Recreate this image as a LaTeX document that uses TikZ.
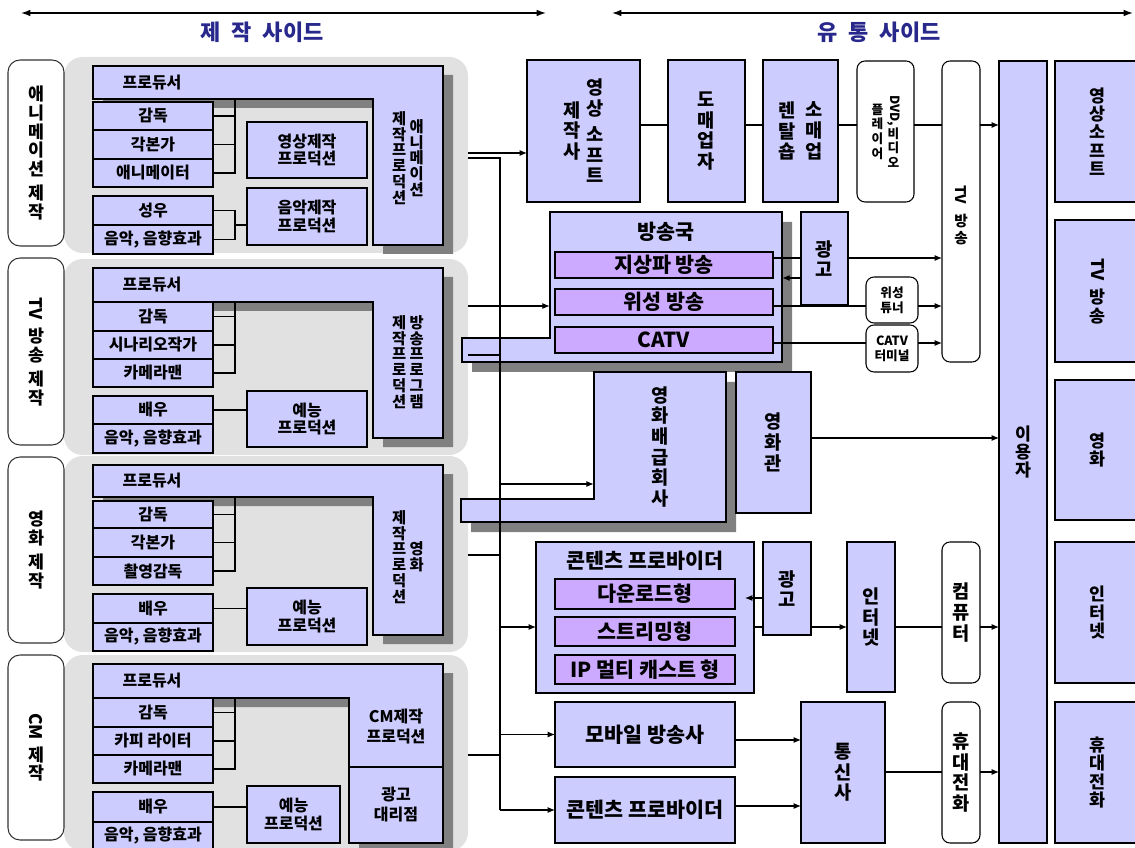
\documentclass[tikz,border=0pt]{standalone}
\usepackage{fontspec}
\setmainfont{Noto Sans CJK KR}
\usepackage{graphicx}
\usetikzlibrary{arrows.meta,fit}
\definecolor{lav}{RGB}{204,204,255}
\definecolor{purp}{RGB}{204,170,255}
\definecolor{bgg}{RGB}{225,225,225}
\definecolor{shd}{RGB}{128,128,128}
\definecolor{ttl}{RGB}{40,40,140}
\newcommand\fT{\fontsize{16.5}{18}\selectfont\bfseries}
\newcommand\fL{\fontsize{13}{14}\selectfont\bfseries}
\newcommand\fS{\fontsize{12}{13}\selectfont\bfseries}
\newcommand\fV{\fontsize{11.5}{11.8}\selectfont\bfseries}
\newcommand\fM{\fontsize{14}{15.5}\selectfont\bfseries}
\newcommand\fH{\fontsize{15.5}{16}\selectfont\bfseries}
\newcommand\fR{\fontsize{13}{13.8}\selectfont\bfseries}
\newcommand\fX{\fontsize{9.5}{11}\selectfont\bfseries}
\newcommand\rot[1]{\rotatebox[origin=c]{-90}{#1}}
\newcommand\stk[1]{$\vcenter{\lineskiplimit=-\maxdimen\lineskip=0pt\let\\\cr\halign{\hfil##\hfil\cr#1\crcr}}$}
\newcommand\twoc[3]{\stk{#2}\hspace{#1}\stk{#3}}
\newcommand\vgap{\noalign{\kern4pt}}
\newcommand\vgapb{\noalign{\kern7pt}}
\newcommand\mybox[7][]{\node[bx,#1,fit={(#3,#4)(#5,#6)}] (#2) {};
  \node[bx,#1,draw=none,fill=none] (#2t) at (#2.center) {#7};}
\begin{document}
\begin{tikzpicture}[x=0.75pt,y=-0.75pt,
  bx/.style={draw=black,line width=0.8pt,fill=lav,inner sep=0pt,outer sep=0pt,align=center,font=\fS},
  sub/.style={bx,fill=purp,font=\fH},
  rbx/.style={bx,fill=white,rounded corners=6pt},
  lbl/.style={bx,fill=white,draw=black!80,rounded corners=9pt,font=\fL},
  ln/.style={draw=black,line width=0.8pt},
  arr/.style={ln,-{Latex[length=5.5pt,width=4.5pt]}},
  dbl/.style={ln,line width=1pt,{Latex[length=7pt,width=5pt]}-{Latex[length=7pt,width=5pt]}},
  txt/.style={inner sep=0pt,align=center},
  ttlf/.style={txt,font=\fT,text=ttl},
  lsh/.style={ln,fill=lav},
  shdw/.style={fill=shd}]
\useasboundingbox (0,0) rectangle (1135,848);
% ---------- titles
\coordinate (lA) at (21,13); \coordinate (lB) at (546,13);
\coordinate (rA) at (612,13); \coordinate (rB) at (1133,13);
\draw[dbl] (lA) -- (lB);
\draw[dbl] (rA) -- (rB);
\node[ttlf] (tP) at (262,32) {제\hspace{0.5em}작\hspace{0.5em}사이드};
\node[ttlf] (tD) at (879,32) {유\hspace{0.5em}통\hspace{0.5em}사이드};
% ---------- group backgrounds
\foreach \b in {66,268,465,664} {\fill[bgg,rounded corners=14pt] (64,\b-9) rectangle (468,\b+187);}
% ---------- broadcaster and distributor shapes
\fill[shdw] (472,348) -- (560,348) -- (560,222) -- (792,222) -- (792,372) -- (472,372) -- cycle;
\draw[lsh] (462,338) -- (550,338) -- (550,212) -- (782,212) -- (782,362) -- (462,362) -- cycle;
\node[txt,fit={(550,212)(782,362)}] (bs) {};
\node[txt,font=\fH] (bsT) at (666,232) {방송국};
\mybox[sub]{jsp}{555}{252}{773}{278}{지상파 방송}
\mybox[sub]{ws}{555}{289}{773}{315}{위성 방송}
\mybox[sub]{catv}{555}{327}{773}{353}{CATV}
\fill[shdw] (471,509) -- (604,509) -- (604,382) -- (736,382) -- (736,532) -- (471,532) -- cycle;
\draw[lsh] (461,499) -- (594,499) -- (594,372) -- (726,372) -- (726,522) -- (461,522) -- cycle;
\node[txt,fit={(594,372)(726,522)}] (mv) {};
\node[txt,font=\fM] (mvT) at (mv.center) {\stk{영\\화\\배\\급\\회\\사}};
% ---------- labels
\mybox[lbl]{aL}{8}{60}{64}{246}{\stk{애\\니\\메\\이\\션\\\vgap 제\\작}}
\mybox[lbl]{bL}{8}{258}{64}{445}{\stk{\rot{TV}\\\vgapb 방\\송\\\vgap 제\\작}}
\mybox[lbl]{cL}{8}{457}{64}{643}{\stk{영\\화\\\vgap 제\\작}}
\mybox[lbl]{dL}{8}{655}{64}{840}{\stk{\rot{CM}\\\vgapb 제\\작}}
% ---------- group A
\fill[shdw] (103,75) -- (453,75) -- (453,254) -- (383,254) -- (383,108) -- (103,108) -- cycle;
\draw[lsh] (93,66) -- (443,66) -- (443,245) -- (373,245) -- (373,99) -- (93,99) -- cycle;
\node[txt,font=\fS] (aP) at (152,83) {프로듀서};
\node[txt,font=\fV] (aPT) at (408,158) {\twoc{2.5pt}{제\\작\\프\\로\\덕\\션}{애\\니\\메\\이\\션}};
\mybox{a1}{93}{102}{213}{130}{감독}
\mybox{a2}{93}{130}{213}{159}{각본가}
\mybox{a3}{93}{159}{213}{187}{애니메이터}
\mybox{a4}{93}{196}{213}{225}{성우}
\mybox{a5}{93}{225}{213}{254}{음악, 음향효과}
\mybox{aV}{247}{122}{367}{178}{영상제작\\프로덕션}
\mybox{aM}{247}{188}{367}{245}{음악제작\\프로덕션}
\coordinate (aJ) at (235,99);
\draw[ln] (a1.east) -- (a1.east -| aJ);
\draw[ln] (a2.east) -- (a2.east -| aJ);
\draw[ln] (a3.east) -- (a3.east -| aJ) -- (aJ);
\draw[ln] (a4.east) -- (a4.east -| aJ) -- (a5.east -| aJ) -- (a5.east);
\draw[ln] (a4.south -| aJ) -- (a4.south -| aM.west);
% ---------- group B
\fill[shdw] (103,277) -- (453,277) -- (453,447) -- (383,447) -- (383,311) -- (103,311) -- cycle;
\draw[lsh] (93,268) -- (443,268) -- (443,438) -- (373,438) -- (373,302) -- (93,302) -- cycle;
\node[txt,font=\fS] (bP) at (152,285) {프로듀서};
\node[txt,font=\fV] (bPT) at (408,362) {\twoc{2.5pt}{제\\작\\프\\로\\덕\\션}{방\\송\\프\\로\\그\\램}};
\mybox{b1}{93}{302}{213}{331}{감독}
\mybox{b2}{93}{331}{213}{359}{시나리오작가}
\mybox{b3}{93}{359}{213}{387}{카메라맨}
\mybox{b4}{93}{396}{213}{424}{배우}
\mybox{b5}{93}{424}{213}{453}{음악, 음향효과}
\mybox{bY}{247}{391}{367}{447}{예능\\프로덕션}
\coordinate (bJ) at (235,302);
\draw[ln] (b1.east) -- (b1.east -| bJ);
\draw[ln] (b2.east) -- (b2.east -| bJ);
\draw[ln] (b3.east) -- (b3.east -| bJ) -- (bJ);
\draw[ln] (b4.east) -- (b4.east -| bY.west);
% ---------- group C
\fill[shdw] (103,474) -- (453,474) -- (453,644) -- (383,644) -- (383,506) -- (103,506) -- cycle;
\draw[lsh] (93,465) -- (443,465) -- (443,635) -- (373,635) -- (373,497) -- (93,497) -- cycle;
\node[txt,font=\fS] (cP) at (152,481) {프로듀서};
\node[txt,font=\fV] (cPT) at (408,557) {\twoc{2.5pt}{제\\작\\프\\로\\덕\\션}{영\\화}};
\mybox{c1}{93}{501}{213}{528}{감독}
\mybox{c2}{93}{528}{213}{557}{각본가}
\mybox{c3}{93}{557}{213}{585}{촬영감독}
\mybox{c4}{93}{594}{213}{623}{배우}
\mybox{c5}{93}{623}{213}{651}{음악, 음향효과}
\mybox{cY}{247}{588}{367}{645}{예능\\프로덕션}
\coordinate (cJ) at (235,497);
\draw[ln] (c1.east) -- (c1.east -| cJ);
\draw[ln] (c2.east) -- (c2.east -| cJ);
\draw[ln] (c3.east) -- (c3.east -| cJ) -- (cJ);
\draw[ln] (c4.east) -- (c4.east -| cY.west);
% ---------- group D
\fill[shdw] (103,673) -- (453,673) -- (453,852) -- (359,852) -- (359,707) -- (103,707) -- cycle;
\draw[lsh] (93,664) -- (443,664) -- (443,767) -- (349,767) -- (349,698) -- (93,698) -- cycle;
\node[txt,font=\fS] (dP) at (152,681) {프로듀서};
\node[txt,font=\fS] (dPT) at (396,727) {CM제작\\[2pt]프로덕션};
\mybox{dAd}{349}{767}{443}{843}{광고\\[2pt]대리점}
\mybox{d1}{93}{698}{213}{727}{감독}
\mybox{d2}{93}{727}{213}{755}{카피 라이터}
\mybox{d3}{93}{755}{213}{783}{카메라맨}
\mybox{d4}{93}{792}{213}{822}{배우}
\mybox{d5}{93}{822}{213}{850}{음악, 음향효과}
\mybox{dY}{247}{786}{340}{843}{예능\\프로덕션}
\coordinate (dJ) at (235,698);
\draw[ln] (d1.east) -- (d1.east -| dJ);
\draw[ln] (d2.east) -- (d2.east -| dJ);
\draw[ln] (d3.east) -- (d3.east -| dJ) -- (dJ);
\draw[ln] (d4.east) -- (d4.east -| dY.west);
% ---------- distribution boxes
\mybox[font=\fM]{vs}{527}{60}{640}{202}{\twoc{4pt}{제\\작\\사}{영\\상\\\vgap 소\\프\\트}}
\mybox[font=\fM]{dm}{668}{60}{745}{202}{\stk{도\\매\\업\\자}}
\mybox[font=\fM]{sm}{763}{60}{838}{202}{\twoc{7pt}{렌\\탈\\숍}{소\\매\\업}}
\mybox[rbx,font=\fX]{dvd}{857}{61}{914}{202}{\twoc{3pt}{플\\레\\이\\어}{\rot{DVD,}\\\vgapb 비\\디\\오}}
\mybox[rbx]{tvb}{942}{61}{980}{362}{}
\node[txt,font=\fontsize{11}{12.5}\selectfont\bfseries] (tvbT) at (961,215) {\stk{\rot{TV}\\\vgapb 방\\송}};
\mybox[font=\fR]{usr}{999}{61}{1047}{843}{\stk{이\\용\\자}}
\mybox[font=\fR]{o1}{1055}{61}{1140}{202}{\stk{영\\상\\소\\프\\트}}
\mybox[font=\fR]{o2}{1055}{220}{1140}{362}{\stk{\rot{TV}\\\vgapb 방\\송}}
\mybox[font=\fR]{o3}{1055}{380}{1140}{520}{\stk{영\\화}}
\mybox[font=\fR]{o4}{1055}{542}{1140}{683}{\stk{인\\터\\넷}}
\mybox[font=\fR]{o5}{1055}{702}{1140}{843}{\stk{휴\\대\\전\\화}}
\mybox[font=\fM]{ad1}{801}{212}{848}{305}{\stk{광\\고}}
\mybox[rbx,font=\fX]{st}{866}{277}{918}{323}{위성\\튜너}
\mybox[rbx,font=\fX]{ct}{866}{325}{918}{372}{CATV\\터미널}
\mybox[font=\fM]{yg}{736}{372}{811}{513}{\stk{영\\화\\관}}
\mybox{cp}{536}{542}{754}{693}{}
\node[txt,font=\fH] (cpT) at (645,561) {콘텐츠 프로바이더};
\mybox[sub]{dl}{555}{579}{735}{609}{다운로드형}
\mybox[sub]{sr}{555}{617}{735}{646}{스트리밍형}
\mybox[sub]{ip}{555}{655}{735}{684}{IP 멀티 캐스트 형}
\mybox[font=\fM]{ad2}{763}{542}{811}{635}{\stk{광\\고}}
\mybox[font=\fM]{inet}{847}{542}{895}{692}{\stk{인\\터\\넷}}
\mybox[rbx,font=\fM]{pc}{942}{542}{980}{683}{\stk{컴\\퓨\\터}}
\mybox[font=\fH]{mb}{555}{702}{735}{767}{모바일 방송사}
\mybox[font=\fH]{cp2}{555}{777}{735}{843}{콘텐츠 프로바이더}
\mybox[font=\fM]{tel}{801}{702}{885}{843}{\stk{통\\신\\사}}
\mybox[rbx,font=\fM]{ph}{942}{702}{980}{843}{\stk{휴\\대\\전\\화}}
% ---------- helper rows
\coordinate (h125) at (0,125);
\coordinate (h258) at (0,258);
\coordinate (h278) at (0,278);
\coordinate (h306) at (0,306);
\coordinate (h343) at (0,343);
\coordinate (h438) at (0,438);
\coordinate (h598) at (0,598);
\coordinate (h627) at (0,627);
\coordinate (h740) at (0,740);
\coordinate (h806) at (0,806);
\coordinate (h772) at (0,772);
% ---------- production side to bus
\coordinate (aO1) at (468,153);
\coordinate (aO2) at (468,158);
\coordinate (bO1) at (468,306);
\coordinate (bO2) at (468,355);
\coordinate (cO) at (468,555);
\coordinate (dO) at (468,755);
\coordinate (bus1) at (500,158);
\coordinate (bus2) at (500,810);
\coordinate (jmv) at (500,484);
\draw[arr] (aO1) -- (aO1 -| vs.west);
\draw[ln] (aO2) -- (bus1) -- (bus2);
\draw[arr] (bO1) -- (bO1 -| bs.west);
\draw[ln] (bO2) -- (bO2 -| bus1);
\draw[ln] (cO) -- (cO -| bus1);
\draw[ln] (dO) -- (dO -| bus1);
\draw[arr] (jmv) -- (jmv -| mv.west);
\draw[arr] (bus1 |- h627) -- (cp.west |- h627);
\draw[arr] (bus1 |- mb.west) -- (mb.west);
\draw[arr] (bus2) -- (bus2 -| cp2.west);
% ---------- top row
\draw[ln] (vs.east |- h125) -- (dm.west |- h125);
\draw[ln] (dm.east |- h125) -- (sm.west |- h125);
\draw[ln] (sm.east |- h125) -- (dvd.west |- h125);
\draw[ln] (dvd.east |- h125) -- (tvb.west |- h125);
\draw[arr] (tvb.east |- h125) -- (usr.west |- h125);
% ---------- broadcasting
\draw[ln] (jsp.east |- h258) -- (ad1.west |- h258);
\draw[arr] (ad1.east |- h258) -- (tvb.west |- h258);
\draw[arr] (ad1.west |- h278) -- (bs.east |- h278);
\draw[ln] (ws.east |- h306) -- (st.west |- h306);
\draw[arr] (st.east |- h306) -- (tvb.west |- h306);
\draw[ln] (catv.east |- h343) -- (ct.west |- h343);
\draw[arr] (ct.east |- h343) -- (tvb.west |- h343);
% ---------- cinema
\draw[arr] (yg.east |- h438) -- (usr.west |- h438);
% ---------- internet
\coordinate (ctip) at (745,598);
\draw[arr] (ad2.west |- h598) -- (ctip);
\draw[ln] (cp.east |- h627) -- (ad2.west |- h627);
\draw[arr] (ad2.east |- h627) -- (inet.west |- h627);
\draw[ln] (inet.east |- h627) -- (pc.west |- h627);
\draw[arr] (pc.east |- h627) -- (usr.west |- h627);
% ---------- mobile
\draw[arr] (mb.east |- h740) -- (tel.west |- h740);
\draw[arr] (cp2.east |- h806) -- (tel.west |- h806);
\draw[ln] (tel.east |- h772) -- (ph.west |- h772);
\draw[arr] (ph.east |- h772) -- (usr.west |- h772);
\end{tikzpicture}
\end{document}
